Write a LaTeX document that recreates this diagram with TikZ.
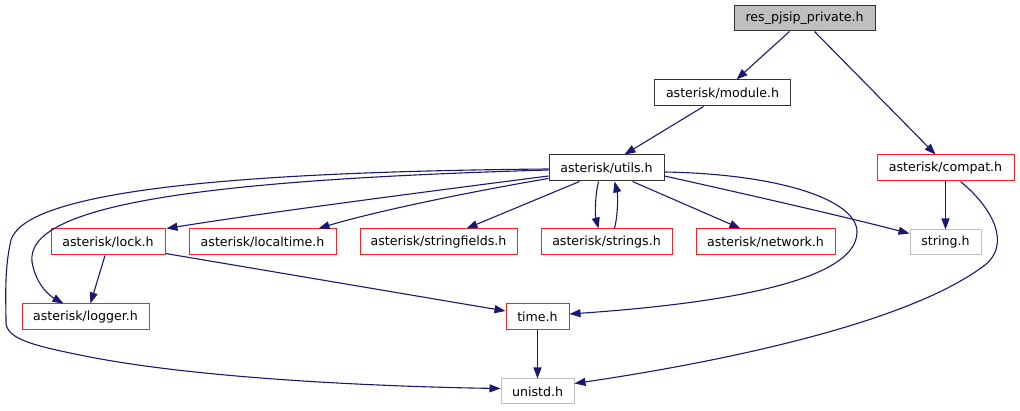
\documentclass[tikz,border=0pt]{standalone}
\usepackage{fontspec}
\setmainfont{DejaVu Sans}
\usetikzlibrary{arrows.meta,calc}
\definecolor{edgeblue}{HTML}{191970}
\definecolor{boxred}{HTML}{FF2020}
\definecolor{boxgray}{HTML}{BFBFBF}
\tikzset{
  box/.style={draw, line width=1pt, minimum height=26pt, inner sep=0pt, font=\fontsize{12.6}{15}\selectfont},
  blackbox/.style={box, draw=black!80},
  redbox/.style={box, draw=boxred},
  graybox/.style={box, draw=boxgray},
  rootbox/.style={box, draw=black!80, fill=boxgray},
  edge/.style={draw=edgeblue, line width=1.1pt, -{Triangle[length=11pt,width=8pt]}, fill=none},
}
\begin{document}
\begin{tikzpicture}[x=1pt,y=-1pt]
\useasboundingbox (0,0) rectangle (1020,411);
\node[rootbox, minimum width=141pt, minimum height=25pt] (res) at (804.5,18.5) {res\_pjsip\_private.h};
\node[blackbox, minimum width=136pt] (module) at (722.5,93) {asterisk/module.h};
\node[blackbox, minimum width=115pt] (utils) at (606.5,168) {asterisk/utils.h};
\node[redbox, minimum width=137pt] (compat) at (945.5,168) {asterisk/compat.h};
\node[redbox, minimum width=114pt] (lock) at (108,242) {asterisk/lock.h};
\node[redbox, minimum width=147pt] (localtime) at (262.5,242) {asterisk/localtime.h};
\node[redbox, minimum width=157pt] (stringfields) at (438.5,242) {asterisk/stringfields.h};
\node[redbox, minimum width=131pt] (strings) at (606.5,242) {asterisk/strings.h};
\node[redbox, minimum width=139pt] (network) at (765.5,242) {asterisk/network.h};
\node[graybox, minimum width=71pt, minimum height=25pt] (string) at (945.5,242.5) {string.h};
\node[redbox, minimum width=127pt] (logger) at (85.5,317) {asterisk/logger.h};
\node[redbox, minimum width=63pt] (time) at (537.5,317) {time.h};
\node[graybox, minimum width=73pt, minimum height=25pt] (unistd) at (537.5,391.5) {unistd.h};

% top level
\draw[edge] ($(res.south)+(-15,0)$) -- ($(module.north)+(14,0)$);
\draw[edge] ($(res.south)+(10,0)$) -- ($(compat.north)+(-10,0)$);
\draw[edge] ($(module.south)+(-19,0)$) -- ($(utils.north)+(18,0)$);

% from utils
\draw[edge] ($(utils.west)+(0,8)$) .. controls (400,195) and (250,215) .. ($(lock.north east)+(1,0)$);
\draw[edge] ($(utils.south west)+(0,-3)$) .. controls (480,190) and (380,210) .. ($(localtime.north)+(56,0)$);
\draw[edge] ($(utils.south west)+(31,0)$) -- ($(stringfields.north)+(28,0)$);
\draw[edge] ($(utils.south)+(-8,0)$) .. controls (595,195) and (595,215) .. ($(strings.north)+(-8,0)$);
\draw[edge] ($(strings.north)+(8,0)$) .. controls (618,215) and (618,195) .. ($(utils.south)+(8,0)$);
\draw[edge] ($(utils.south east)+(-32,0)$) -- ($(network.north)+(-25,0)$);
\draw[edge] ($(utils.east)+(0,8)$) .. controls (750,195) and (850,218) .. ($(string.west)+(0,-9)$);
% curve to logger
\draw[edge] ($(utils.west)+(0,2)$) .. controls (200,180) and (25,205) .. (32,262)
  .. controls (36,285) and (50,296) .. ($(logger.north west)+(42,0)$);
% curve to unistd
\draw[edge] ($(utils.west)+(0,1)$) .. controls (200,172) and (25,195) .. (11,240)
  .. controls (4,270) and (6,300) .. (6,322)
  .. controls (6,338) and (30,345) .. (80,355)
  .. controls (200,380) and (400,387) .. ($(unistd.west)+(0,-3)$);
% curve to time
\draw[edge] ($(utils.east)+(0,4)$) .. controls (780,174) and (857,200) .. (857,232)
  .. controls (857,285) and (700,305) .. ($(time.east)+(0,-3)$);

% lock
\draw[edge] ($(lock.south)+(-3,0)$) -- ($(logger.north)+(5,0)$);
\draw[edge] ($(lock.south east)+(0,-2)$) -- ($(time.west)+(0,-6)$);
% compat
\draw[edge] (compat.south) -- (string.north);
\draw[edge] ($(compat.south)+(15,0)$) .. controls (995,210) and (1010,245) .. (985,265)
  .. controls (900,330) and (680,368) .. ($(unistd.east)+(0,-8)$);
% time
\draw[edge] (time.south) -- (unistd.north);
\end{tikzpicture}
\end{document}
